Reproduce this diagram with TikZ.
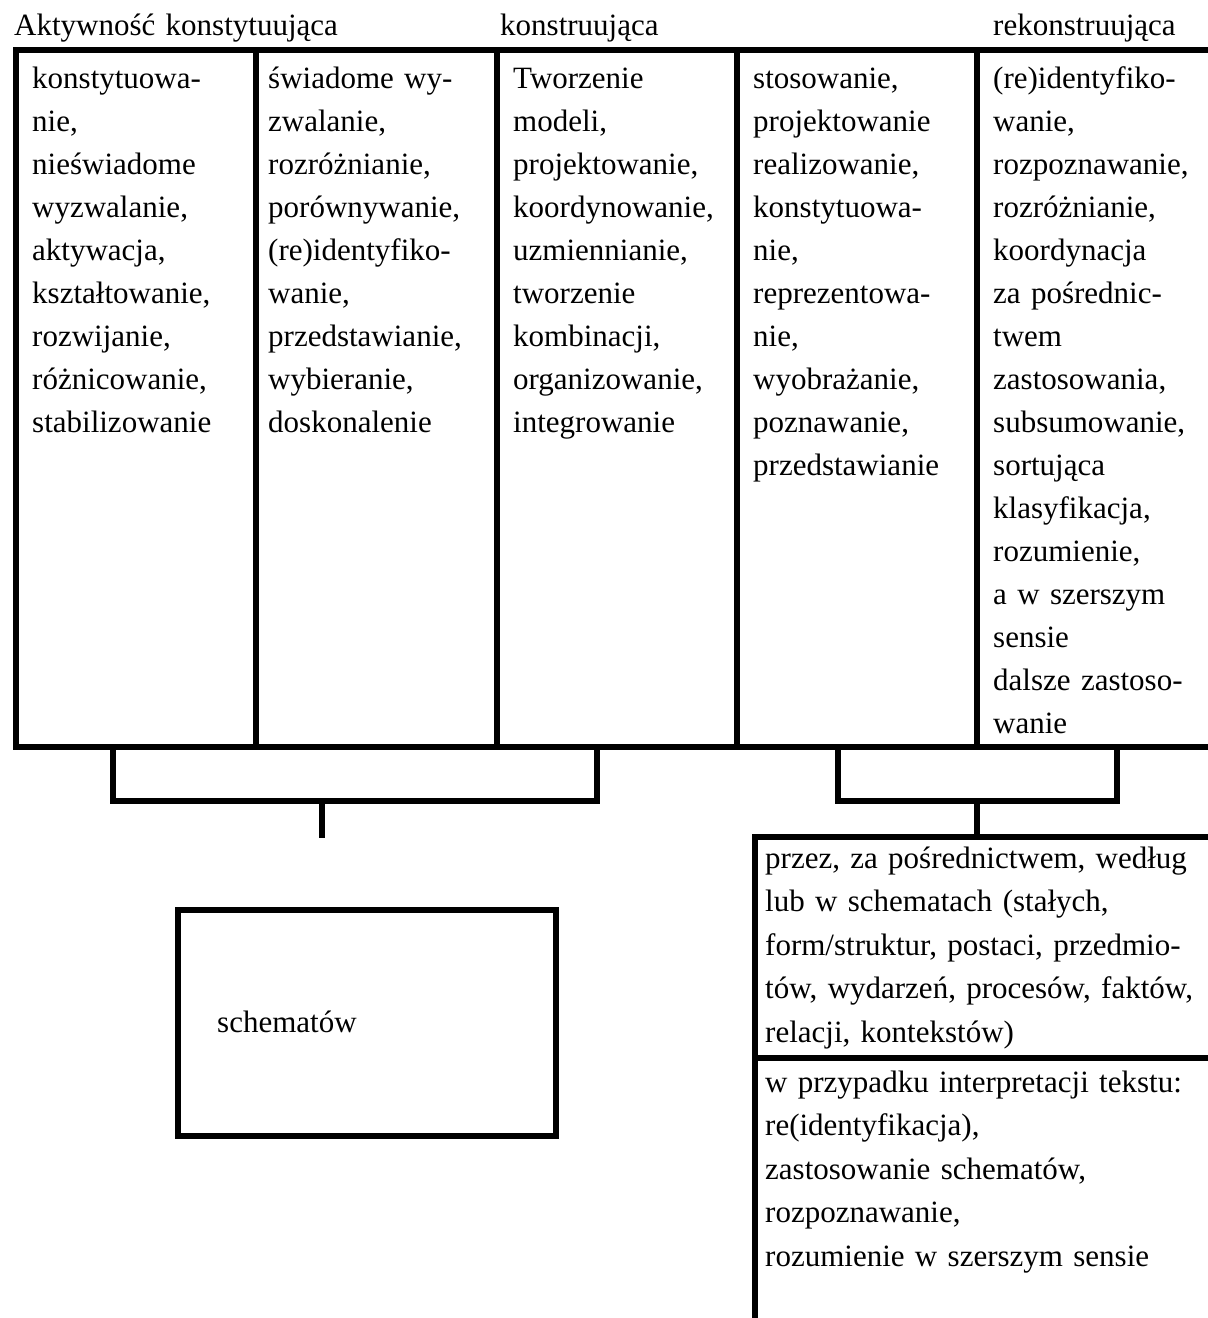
\documentclass[tikz,border=0pt]{standalone}
\usepackage{fontspec}
\setmainfont{Liberation Serif}
\begin{document}
\begin{tikzpicture}[x=1pt,y=-1pt,
  rule/.style={line width=5.5pt, line join=miter},
  txt/.style={anchor=base west, inner sep=0pt, text width=440pt, align=left,
              font=\fontsize{31}{43}\selectfont},
  boxtxt/.style={txt, font=\fontsize{31}{43.5}\selectfont}]
\useasboundingbox (0,0) rectangle (1208,1318);

% named coordinates
\coordinate (tTL) at (16,50);   \coordinate (tTR) at (1208,50);
\coordinate (tBL) at (16,747);  \coordinate (tBR) at (1208,747);
\coordinate (d1t) at (256,50);  \coordinate (d1b) at (256,747);
\coordinate (d2t) at (497,50);  \coordinate (d2b) at (497,747);
\coordinate (d3t) at (737,50);  \coordinate (d3b) at (737,747);
\coordinate (d4t) at (977,50);  \coordinate (d4b) at (977,747);
\coordinate (lbA) at (113,747); \coordinate (lbB) at (113,801);
\coordinate (lbC) at (597,801); \coordinate (lbD) at (597,747);
\coordinate (lsA) at (322,801); \coordinate (lsB) at (322,838);
\coordinate (rbA) at (838,747); \coordinate (rbB) at (838,801);
\coordinate (rbC) at (1117,801); \coordinate (rbD) at (1117,747);
\coordinate (rsA) at (977,801); \coordinate (rsB) at (977,837);
\coordinate (bxTR) at (1208,837); \coordinate (bxTL) at (755,837);
\coordinate (bxBL) at (755,1318);
\coordinate (spL) at (755,1058); \coordinate (spR) at (1208,1058);
\coordinate (scA) at (178,910); \coordinate (scB) at (556,1136);

% table
\draw[rule] (tTR) -- (tTL) -- (tBL) -- (tBR);
\draw[rule] (d1t) -- (d1b);
\draw[rule] (d2t) -- (d2b);
\draw[rule] (d3t) -- (d3b);
\draw[rule] (d4t) -- (d4b);

% brackets
\draw[rule] (lbA) -- (lbB) -- (lbC) -- (lbD);
\draw[rule] (lsA) -- (lsB);
\draw[rule] (rbA) -- (rbB) -- (rbC) -- (rbD);
\draw[rule] (rsA) -- (rsB);

% right lower box
\draw[rule] (bxTR) -- (bxTL) -- (bxBL);
\draw[rule] (spL) -- (spR);

% schematow box
\draw[rule] (scA) rectangle (scB);

% labels
\node[txt] (lab1) at (14,35) {Aktywność konstytuująca};
\node[txt] (lab2) at (500,35) {konstruująca};
\node[txt] (lab3) at (993,35) {rekonstruująca};

\node[txt] (c1) at (32,88) {konstytuowa-\\nie,\\nieświadome\\wyzwalanie,\\aktywacja,\\kształtowanie,\\rozwijanie,\\różnicowanie,\\stabilizowanie};
\node[txt] (c2) at (268,88) {świadome wy-\\zwalanie,\\rozróżnianie,\\porównywanie,\\(re)identyfiko-\\wanie,\\przedstawianie,\\wybieranie,\\doskonalenie};
\node[txt] (c3) at (513,88) {Tworzenie\\modeli,\\projektowanie,\\koordynowanie,\\uzmiennianie,\\tworzenie\\kombinacji,\\organizowanie,\\integrowanie};
\node[txt] (c4) at (753,88) {stosowanie,\\projektowanie\\realizowanie,\\konstytuowa-\\nie,\\reprezentowa-\\nie,\\wyobrażanie,\\poznawanie,\\przedstawianie};
\node[txt] (c5) at (993,88) {(re)identyfiko-\\wanie,\\rozpoznawanie,\\rozróżnianie,\\koordynacja\\za pośrednic-\\twem\\zastosowania,\\subsumowanie,\\sortująca\\klasyfikacja,\\rozumienie,\\a w szerszym\\sensie\\dalsze zastoso-\\wanie};

\node[boxtxt] (b1) at (765,868) {przez, za pośrednictwem, według\\lub w schematach (stałych,\\form/struktur, postaci, przedmio-\\tów, wydarzeń, procesów, faktów,\\relacji, kontekstów)};
\node[boxtxt] (b2) at (765,1092) {w przypadku interpretacji tekstu:\\re(identyfikacja),\\zastosowanie schematów,\\rozpoznawanie,\\rozumienie w szerszym sensie};

\node[txt] (sch) at (217,1032) {schematów};
\end{tikzpicture}
\end{document}
